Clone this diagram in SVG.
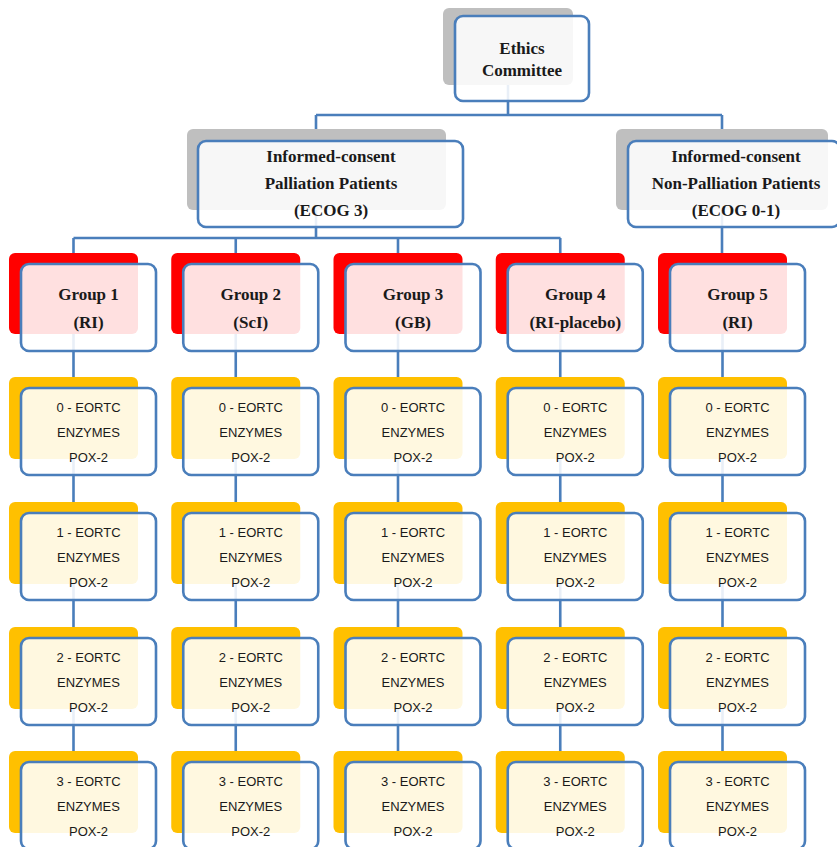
<svg xmlns="http://www.w3.org/2000/svg" width="837" height="847" viewBox="0 0 837 847">
<style>
.bg{fill:#ffffff}
.gray{fill:#bfbfbf}
.red{fill:#ff0000}
.org{fill:#ffc000}
.box{fill:#ffffff;fill-opacity:0.88;stroke:#4a7ebb;stroke-width:2.6}
.conn{stroke:#4a7ebb;stroke-width:2.6;fill:none}
.st{font-family:"Liberation Serif","Times New Roman",serif;font-weight:bold;font-size:17px;fill:#1a1a1a;text-anchor:middle}
.ss{font-family:"Liberation Sans",Arial,sans-serif;font-size:13px;fill:#1a1a1a;text-anchor:middle}
</style>
<defs>
<g id="enz-shape">
<rect class="org" x="0" y="0" width="129" height="82" rx="6"/>
<rect class="box" x="12" y="11" width="135" height="87" rx="8"/>
</g>
<g id="grp-shape">
<rect class="red" x="0" y="0" width="129" height="81" rx="6"/>
<rect class="box" x="12" y="11" width="135" height="87" rx="8"/>
</g>
</defs>
<rect class="bg" x="0" y="0" width="837" height="847"/>
<g id="connectors">
<path class="conn" d="M508,85V115M316,115H722M316,115V129M722,115V129"/>
<path class="conn" d="M316,210V238M73.5,238H560.5M73.5,238V253M235.75,238V253M398,238V253M560.25,238V253M722,210V253"/>
<path class="conn" d="M73.5,334V751M235.75,334V751M398,334V751M560.25,334V751M722.5,334V751"/>
</g>
<g id="ethics">
<rect class="gray" x="443" y="8" width="130" height="77" rx="6"/>
<rect class="box" x="455" y="16" width="134" height="85" rx="8"/>
<text class="st" x="522" y="54">Ethics</text>
<text class="st" x="522" y="76">Committee</text>
</g>
<g id="palliation">
<rect class="gray" x="187" y="129" width="259" height="81" rx="6"/>
<rect class="box" x="198" y="141" width="265" height="86" rx="8"/>
<text class="st" x="331" y="162">Informed-consent</text>
<text class="st" x="331" y="189">Palliation Patients</text>
<text class="st" x="331" y="216">(ECOG 3)</text>
</g>
<g id="nonpalliation">
<rect class="gray" x="616" y="129" width="212" height="81" rx="6"/>
<rect class="box" x="628" y="141" width="212" height="86" rx="8"/>
<text class="st" x="736" y="162">Informed-consent</text>
<text class="st" x="736" y="189">Non-Palliation Patients</text>
<text class="st" x="736" y="216">(ECOG 0-1)</text>
</g>
<g id="group1" transform="translate(9,253)"><use href="#grp-shape"/><text class="st" x="79.5" y="47">Group 1</text><text class="st" x="79.5" y="75">(RI)</text></g>
<g id="group2" transform="translate(171.25,253)"><use href="#grp-shape"/><text class="st" x="79.5" y="47">Group 2</text><text class="st" x="79.5" y="75">(ScI)</text></g>
<g id="group3" transform="translate(333.5,253)"><use href="#grp-shape"/><text class="st" x="79.5" y="47">Group 3</text><text class="st" x="79.5" y="75">(GB)</text></g>
<g id="group4" transform="translate(495.75,253)"><use href="#grp-shape"/><text class="st" x="79.5" y="47">Group 4</text><text class="st" x="79.5" y="75">(RI-placebo)</text></g>
<g id="group5" transform="translate(658,253)"><use href="#grp-shape"/><text class="st" x="79.5" y="47">Group 5</text><text class="st" x="79.5" y="75">(RI)</text></g>

<g id="g1-t0" transform="translate(9,377)"><use href="#enz-shape"/><text class="ss" x="79.5" y="35">0 - EORTC</text><text class="ss" x="79.5" y="60">ENZYMES</text><text class="ss" x="79.5" y="85">POX-2</text></g>
<g id="g2-t0" transform="translate(171.25,377)"><use href="#enz-shape"/><text class="ss" x="79.5" y="35">0 - EORTC</text><text class="ss" x="79.5" y="60">ENZYMES</text><text class="ss" x="79.5" y="85">POX-2</text></g>
<g id="g3-t0" transform="translate(333.5,377)"><use href="#enz-shape"/><text class="ss" x="79.5" y="35">0 - EORTC</text><text class="ss" x="79.5" y="60">ENZYMES</text><text class="ss" x="79.5" y="85">POX-2</text></g>
<g id="g4-t0" transform="translate(495.75,377)"><use href="#enz-shape"/><text class="ss" x="79.5" y="35">0 - EORTC</text><text class="ss" x="79.5" y="60">ENZYMES</text><text class="ss" x="79.5" y="85">POX-2</text></g>
<g id="g5-t0" transform="translate(658,377)"><use href="#enz-shape"/><text class="ss" x="79.5" y="35">0 - EORTC</text><text class="ss" x="79.5" y="60">ENZYMES</text><text class="ss" x="79.5" y="85">POX-2</text></g>

<g id="g1-t1" transform="translate(9,502)"><use href="#enz-shape"/><text class="ss" x="79.5" y="35">1 - EORTC</text><text class="ss" x="79.5" y="60">ENZYMES</text><text class="ss" x="79.5" y="85">POX-2</text></g>
<g id="g2-t1" transform="translate(171.25,502)"><use href="#enz-shape"/><text class="ss" x="79.5" y="35">1 - EORTC</text><text class="ss" x="79.5" y="60">ENZYMES</text><text class="ss" x="79.5" y="85">POX-2</text></g>
<g id="g3-t1" transform="translate(333.5,502)"><use href="#enz-shape"/><text class="ss" x="79.5" y="35">1 - EORTC</text><text class="ss" x="79.5" y="60">ENZYMES</text><text class="ss" x="79.5" y="85">POX-2</text></g>
<g id="g4-t1" transform="translate(495.75,502)"><use href="#enz-shape"/><text class="ss" x="79.5" y="35">1 - EORTC</text><text class="ss" x="79.5" y="60">ENZYMES</text><text class="ss" x="79.5" y="85">POX-2</text></g>
<g id="g5-t1" transform="translate(658,502)"><use href="#enz-shape"/><text class="ss" x="79.5" y="35">1 - EORTC</text><text class="ss" x="79.5" y="60">ENZYMES</text><text class="ss" x="79.5" y="85">POX-2</text></g>

<g id="g1-t2" transform="translate(9,627)"><use href="#enz-shape"/><text class="ss" x="79.5" y="35">2 - EORTC</text><text class="ss" x="79.5" y="60">ENZYMES</text><text class="ss" x="79.5" y="85">POX-2</text></g>
<g id="g2-t2" transform="translate(171.25,627)"><use href="#enz-shape"/><text class="ss" x="79.5" y="35">2 - EORTC</text><text class="ss" x="79.5" y="60">ENZYMES</text><text class="ss" x="79.5" y="85">POX-2</text></g>
<g id="g3-t2" transform="translate(333.5,627)"><use href="#enz-shape"/><text class="ss" x="79.5" y="35">2 - EORTC</text><text class="ss" x="79.5" y="60">ENZYMES</text><text class="ss" x="79.5" y="85">POX-2</text></g>
<g id="g4-t2" transform="translate(495.75,627)"><use href="#enz-shape"/><text class="ss" x="79.5" y="35">2 - EORTC</text><text class="ss" x="79.5" y="60">ENZYMES</text><text class="ss" x="79.5" y="85">POX-2</text></g>
<g id="g5-t2" transform="translate(658,627)"><use href="#enz-shape"/><text class="ss" x="79.5" y="35">2 - EORTC</text><text class="ss" x="79.5" y="60">ENZYMES</text><text class="ss" x="79.5" y="85">POX-2</text></g>

<g id="g1-t3" transform="translate(9,751)"><use href="#enz-shape"/><text class="ss" x="79.5" y="35">3 - EORTC</text><text class="ss" x="79.5" y="60">ENZYMES</text><text class="ss" x="79.5" y="85">POX-2</text></g>
<g id="g2-t3" transform="translate(171.25,751)"><use href="#enz-shape"/><text class="ss" x="79.5" y="35">3 - EORTC</text><text class="ss" x="79.5" y="60">ENZYMES</text><text class="ss" x="79.5" y="85">POX-2</text></g>
<g id="g3-t3" transform="translate(333.5,751)"><use href="#enz-shape"/><text class="ss" x="79.5" y="35">3 - EORTC</text><text class="ss" x="79.5" y="60">ENZYMES</text><text class="ss" x="79.5" y="85">POX-2</text></g>
<g id="g4-t3" transform="translate(495.75,751)"><use href="#enz-shape"/><text class="ss" x="79.5" y="35">3 - EORTC</text><text class="ss" x="79.5" y="60">ENZYMES</text><text class="ss" x="79.5" y="85">POX-2</text></g>
<g id="g5-t3" transform="translate(658,751)"><use href="#enz-shape"/><text class="ss" x="79.5" y="35">3 - EORTC</text><text class="ss" x="79.5" y="60">ENZYMES</text><text class="ss" x="79.5" y="85">POX-2</text></g>
</svg>
